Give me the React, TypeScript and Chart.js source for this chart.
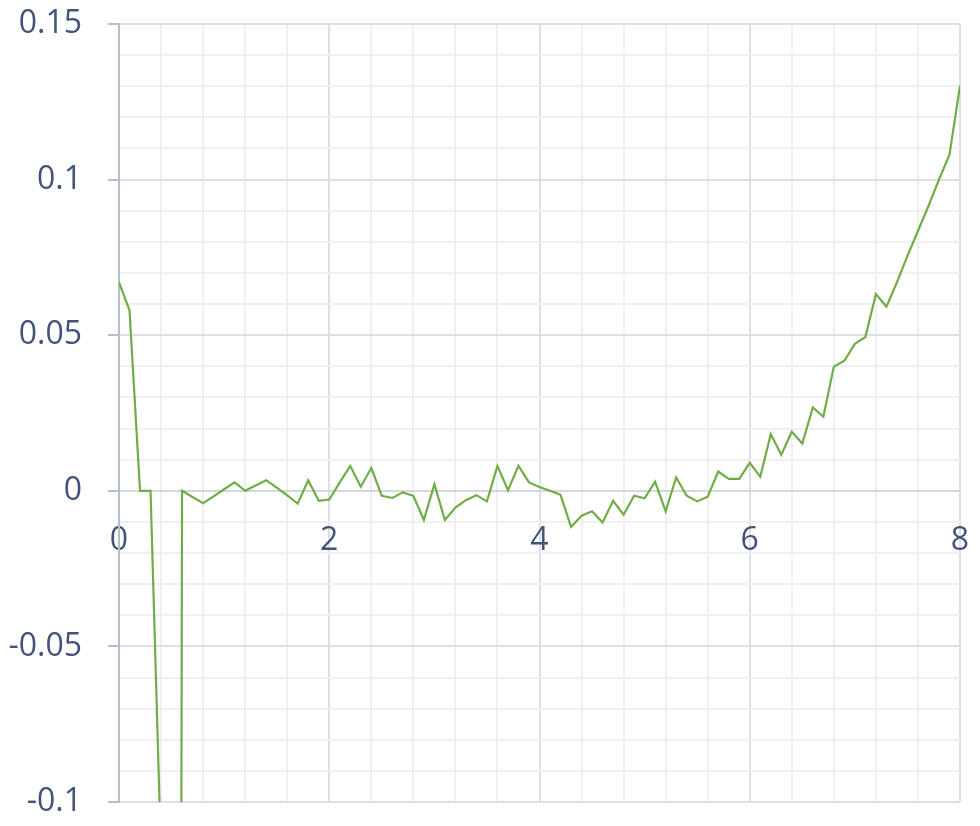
import React, { useEffect, useRef } from 'react';
import { Chart, registerables } from 'chart.js';

Chart.register(...registerables);

// ---- data ----
const xValues = [
  0.0, 0.1, 0.2, 0.3, 0.4, 0.5, 0.6, 0.7, 0.8, 0.9,
  1.0, 1.1, 1.2, 1.3, 1.4, 1.5, 1.6, 1.7, 1.8, 1.9,
  2.0, 2.1, 2.2, 2.3, 2.4, 2.5, 2.6, 2.7, 2.8, 2.9,
  3.0, 3.1, 3.2, 3.3, 3.4, 3.5, 3.6, 3.7, 3.8, 3.9,
  4.0, 4.1, 4.2, 4.3, 4.4, 4.5, 4.6, 4.7, 4.8, 4.9,
  5.0, 5.1, 5.2, 5.3, 5.4, 5.5, 5.6, 5.7, 5.8, 5.9,
  6.0, 6.1, 6.2, 6.3, 6.4, 6.5, 6.6, 6.7, 6.8, 6.9,
  7.0, 7.1, 7.2, 7.3, 7.4, 7.5, 7.6, 7.7, 7.8, 7.9,
  8.0,
];

const yValues = [
  0.067, 0.058, 0, 0, -0.117, -1.5, 0, -0.002, -0.004, -0.0018,
  0.0005, 0.0027, 0, 0.0017, 0.0034, 0.001, -0.0015, -0.0041, 0.0034, -0.0032,
  -0.0028, 0.0027, 0.008, 0.0013, 0.0073, -0.0016, -0.0023, -0.0005, -0.0016, -0.0094,
  0.0021, -0.0094, -0.0054, -0.003, -0.0014, -0.0034, 0.008, 0.0002, 0.008, 0.0027,
  0.0012, 0, -0.0013, -0.0116, -0.008, -0.0066, -0.0102, -0.0032, -0.0077, -0.0016,
  -0.0024, 0.0029, -0.0066, 0.0043, -0.0016, -0.0034, -0.0019, 0.0062, 0.0038, 0.0038,
  0.009, 0.0045, 0.0182, 0.0116, 0.019, 0.0152, 0.0268, 0.0238, 0.0399, 0.0418,
  0.0472, 0.0494, 0.0632, 0.0592, 0.067, 0.0755, 0.0835, 0.0915, 0.1, 0.108,
  0.1302,
];

const xTickLabels = ['0', '2', '4', '6', '8'];
const yTickLabels = ['-0.1', '-0.05', '0', '0.05', '0.1', '0.15'];

// ---- styles ----
const FONT = { family: '"Open Sans", "Noto Sans", sans-serif', size: 32 };
const TEXT_COLOR = '#44537a';
const AXIS_COLOR = '#b6bdcc';
const MAJOR_GRID = '#dcdfe6';
const MINOR_GRID = '#eef0f4';
const LINE_COLOR = '#70ad47';

function findLabel(labels: string[], v: number): string {
  for (const l of labels) {
    if (Math.abs(Number(l) - v) < 1e-7) return l;
  }
  return '';
}

export default function App() {
  const canvasRef = useRef<HTMLCanvasElement | null>(null);

  useEffect(() => {
    const canvas = canvasRef.current;
    if (!canvas) return;
    const points = xValues.map((x, i) => ({ x, y: yValues[i] }));

    const isMajorX = (v: number) => findLabel(xTickLabels, v) !== '';
    const isMajorY = (v: number) => findLabel(yTickLabels, v) !== '';

    const chart = new Chart(canvas, {
      type: 'scatter',
      data: {
        datasets: [
          {
            data: points,
            showLine: true,
            borderColor: LINE_COLOR,
            backgroundColor: LINE_COLOR,
            borderWidth: 2.2,
            pointRadius: 0,
            pointHoverRadius: 0,
            tension: 0,
          },
        ],
      },
      options: {
        responsive: false,
        animation: false,
        events: [],
        layout: { padding: { left: 0, right: 20, top: 24, bottom: 24 } },
        plugins: {
          legend: { display: false },
          tooltip: { enabled: false },
        },
        scales: {
          x: {
            type: 'linear',
            min: 0,
            max: 8,
            position: { y: 0 },
            afterFit: (scale: any) => {
              scale.paddingLeft = 0;
              scale.paddingRight = 0;
              scale.paddingTop = 0;
              scale.paddingBottom = 0;
            },
            ticks: {
              stepSize: 0.4,
              autoSkip: false,
              maxRotation: 0,
              padding: 31,
              color: TEXT_COLOR,
              font: FONT,
              callback: (v: any) => findLabel(xTickLabels, Number(v)),
            },
            grid: {
              drawTicks: false,
              color: (ctx: any) => (ctx.tick && isMajorX(ctx.tick.value) ? MAJOR_GRID : MINOR_GRID),
              lineWidth: 2,
            },
            border: { display: true, color: '#d3d7df', width: 2 },
          },
          y: {
            type: 'linear',
            min: -0.1,
            max: 0.15,
            position: 'left',
            afterFit: (scale: any) => {
              scale.width = 119;
              scale.paddingTop = 0;
              scale.paddingBottom = 0;
              scale.paddingLeft = 0;
              scale.paddingRight = 0;
            },
            ticks: {
              stepSize: 0.01,
              autoSkip: false,
              padding: 26,
              color: TEXT_COLOR,
              font: FONT,
              callback: (v: any) => findLabel(yTickLabels, Number(v)),
            },
            grid: {
              drawTicks: true,
              tickLength: 11,
              tickWidth: 2,
              tickColor: (ctx: any) => (ctx.tick && isMajorY(ctx.tick.value) ? AXIS_COLOR : 'rgba(0,0,0,0)'),
              color: (ctx: any) => (ctx.tick && isMajorY(ctx.tick.value) ? MAJOR_GRID : MINOR_GRID),
              lineWidth: 2,
            },
            border: { display: true, color: AXIS_COLOR, width: 2 },
          },
        },
      } as any,
    });

    return () => {
      chart.destroy();
    };
  }, []);

  return (
    <div style={{ position: 'absolute', left: 0, top: 0, width: 980, height: 826, background: '#ffffff' }}>
      <canvas ref={canvasRef} width={980} height={826} style={{ display: 'block', width: 980, height: 826 }} />
    </div>
  );
}
